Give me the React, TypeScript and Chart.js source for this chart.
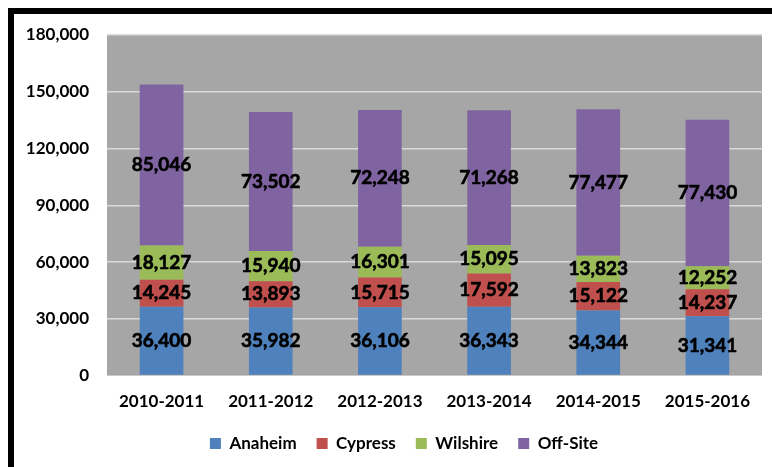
import React, { useEffect, useRef } from "react";
import { Chart, registerables } from "chart.js";

Chart.register(...registerables);

const categories = ["2010-2011", "2011-2012", "2012-2013", "2013-2014", "2014-2015", "2015-2016"];
const anaheim = [36400, 35982, 36106, 36343, 34344, 31341];
const cypress = [14245, 13893, 15715, 17592, 15122, 14237];
const wilshire = [18127, 15940, 16301, 15095, 13823, 12252];
const offSite = [85046, 73502, 72248, 71268, 77477, 77430];
const yTicks = [0, 30000, 60000, 90000, 120000, 150000, 180000];

const FONT = "Lato, 'Open Sans', sans-serif";
const fmt = (v: number) => v.toLocaleString("en-US");

const plotBg = {
  id: "plotBg",
  beforeDraw(chart: any) {
    const { ctx, chartArea } = chart;
    ctx.save();
    ctx.fillStyle = "#a6a6a6";
    ctx.fillRect(chartArea.left, chartArea.top, chartArea.right - chartArea.left, chartArea.bottom - chartArea.top);
    ctx.restore();
  },
};

const legendShift = {
  id: "legendShift",
  afterLayout(chart: any) {
    const lg = chart.legend;
    if (lg) {
      lg.left += 16;
      lg.right += 16;
    }
  },
};

const dataLabels = {
  id: "dataLabels",
  afterDatasetsDraw(chart: any) {
    const { ctx } = chart;
    ctx.save();
    ctx.font = `bold 19px ${FONT}`;
    ctx.fillStyle = "#000000";
    ctx.strokeStyle = "#000000";
    ctx.lineWidth = 0.6;
    ctx.textAlign = "center";
    ctx.textBaseline = "middle";
    chart.data.datasets.forEach((ds: any, i: number) => {
      const meta = chart.getDatasetMeta(i);
      meta.data.forEach((el: any, j: number) => {
        const y = (el.y + el.base) / 2;
        ctx.fillText(fmt(ds.data[j]), el.x, y);
        ctx.strokeText(fmt(ds.data[j]), el.x, y);
      });
    });
    ctx.restore();
  },
};

export default function App() {
  const ref = useRef<HTMLCanvasElement>(null);
  useEffect(() => {
    if (!ref.current) return;
    const chart = new Chart(ref.current, {
      type: "bar",
      data: {
        labels: categories,
        datasets: [
          { label: "Anaheim", data: anaheim, backgroundColor: "#4f81bd" },
          { label: "Cypress", data: cypress, backgroundColor: "#c0504d" },
          { label: "Wilshire", data: wilshire, backgroundColor: "#9bbb59" },
          { label: "Off-Site", data: offSite, backgroundColor: "#8064a2" },
        ],
      },
      options: {
        responsive: false,
        animation: false,
        devicePixelRatio: 1,
        layout: { padding: { left: 0, right: 10, top: 21, bottom: 5 } },
        datasets: { bar: { categoryPercentage: 0.8, barPercentage: 0.5 } },
        plugins: {
          tooltip: { enabled: false },
          legend: {
            position: "bottom",
            labels: {
              boxWidth: 11,
              boxHeight: 11,
              padding: 20,
              color: "#000000",
              font: { family: FONT, size: 17, weight: "bold" },
            },
          },
        },
        scales: {
          x: {
            stacked: true,
            grid: { display: false, drawTicks: false },
            border: { display: false },
            afterFit: (scale: any) => {
              scale.height = scale.height - 13;
            },
            ticks: {
              color: "#000000",
              padding: 16,
              font: { family: FONT, size: 17, weight: "bold" },
            },
          },
          y: {
            stacked: true,
            min: 0,
            max: 180000,
            afterBuildTicks: (scale: any) => {
              scale.ticks = yTicks.map((v) => ({ value: v }));
            },
            afterFit: (scale: any) => {
              scale.width = 93;
            },
            grid: {
              color: (c: any) => (c.tick && c.tick.value === 0 ? "rgba(0,0,0,0)" : "#d9d9d9"),
              lineWidth: 1.5,
              drawTicks: true,
              tickLength: 18,
              tickColor: "rgba(0,0,0,0)",
            },
            border: { display: false },
            ticks: {
              color: "#000000",
              padding: 0,
              font: { family: FONT, size: 17, weight: "bold" },
              callback: (v: any) => fmt(Number(v)),
            },
          },
        },
      },
      plugins: [plotBg, legendShift, dataLabels],
    });
    return () => chart.destroy();
  }, []);
  return (
    <div
      style={{
        position: "fixed",
        left: 8,
        top: 8,
        width: 764,
        height: 459,
        boxSizing: "border-box",
        borderLeft: "6px solid #000",
        borderTop: "6px solid #000",
        background: "#fff",
      }}
    >
      <canvas ref={ref} width={758} height={453} style={{ display: "block" }} />
    </div>
  );
}
